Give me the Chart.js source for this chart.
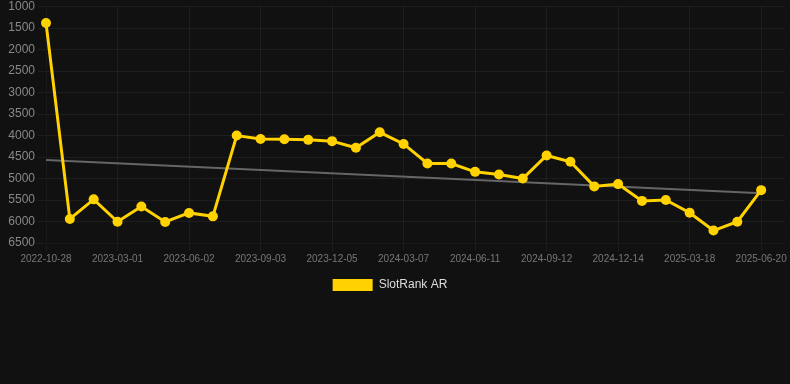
<!DOCTYPE html>
<html>
<head>
<meta charset="utf-8">
<script src="https://cdn.jsdelivr.net/npm/chart.js@4/dist/chart.umd.min.js"></script>
<style>
  html, body { margin: 0; padding: 0; background: #111111; }
  #wrap { position: relative; width: 790px; height: 301px; }
</style>
</head>
<body>
<div id="wrap"><canvas id="rank-chart"></canvas></div>
<script>
// Dates (one spare label at the end so the grid runs past the last point)
const dates = [
    '2022-10-28', '2022-12-08', '2023-01-18', '2023-03-01', '2023-04-01', '2023-05-02',
    '2023-06-02', '2023-07-03', '2023-08-03', '2023-09-03', '2023-10-04', '2023-11-04',
    '2023-12-05', '2024-01-05', '2024-02-05', '2024-03-07', '2024-04-08', '2024-05-10',
    '2024-06-11', '2024-07-12', '2024-08-12', '2024-09-12', '2024-10-13', '2024-11-13',
    '2024-12-14', '2025-01-14', '2025-02-15', '2025-03-18', '2025-04-18', '2025-05-19',
    '2025-06-20', '2025-07-21'
];

// SlotRank AR values
const rankValues = [
    1380, 5940, 5485, 6005, 5650, 6010,
    5800, 5880, 4000, 4080, 4085, 4100,
    4130, 4285, 3925, 4195, 4650, 4650,
    4845, 4905, 5000, 4465, 4610, 5183,
    5130, 5520, 5500, 5795, 6210, 6005,
    5270
];

// Trend line end points
const trendValues = [4570, null, null, null, null, null, null, null, null, null, null,
    null, null, null, null, null, null, null, null, null, null, null, null, null, null,
    null, null, null, null, null, 5345];

const yTicks = { min: 1000, max: 6500, step: 500 };

const gridColor = 'rgba(255, 255, 255, 0.05)';
const fontFamily = 'Liberation Sans, Arial, sans-serif';

new Chart(document.getElementById('rank-chart'), {
    type: 'line',
    data: {
        labels: dates,
        datasets: [{
            label: 'SlotRank AR',
            data: rankValues,
            borderColor: '#ffd200',
            backgroundColor: '#ffd200',
            borderWidth: 3,
            pointRadius: 5,
            pointHoverRadius: 5,
            pointBackgroundColor: '#ffd200',
            pointBorderWidth: 0,
            tension: 0,
            order: 1
        }, {
            label: 'trend',
            data: trendValues,
            borderColor: '#666666',
            borderWidth: 2,
            pointRadius: 0,
            spanGaps: true,
            tension: 0,
            order: 2
        }]
    },
    options: {
        responsive: true,
        maintainAspectRatio: false,
        animation: false,
        layout: { padding: { left: -10, right: 0, top: 0, bottom: 0 } },
        plugins: {
            legend: {
                position: 'bottom',
                labels: {
                    color: '#dddddd',
                    boxWidth: 40,
                    boxHeight: 12,
                    padding: 12,
                    font: { size: 12, family: fontFamily },
                    filter: item => item.text !== 'trend',
                    generateLabels: chart => Chart.defaults.plugins.legend.labels.generateLabels(chart)
                        .map(item => Object.assign(item, { lineWidth: 0 }))
                }
            },
            tooltip: { enabled: false }
        },
        scales: {
            x: {
                grid: {
                    color: ctx => (ctx.index % 3 === 0 ? gridColor : 'transparent'),
                    tickLength: 8
                },
                ticks: {
                    autoSkip: false,
                    maxRotation: 0,
                    padding: 2,
                    color: '#777777',
                    font: { size: 10, family: fontFamily },
                    callback: function(value, index) {
                        return index % 3 === 0 && index < rankValues.length ? this.getLabelForValue(value) : '';
                    }
                }
            },
            y: {
                reverse: true,
                min: yTicks.min,
                max: yTicks.max,
                afterFit: scale => { scale.width = 56; },
                grid: { color: gridColor },
                ticks: {
                    stepSize: yTicks.step,
                    color: '#888888',
                    font: { size: 12, family: fontFamily, lineHeight: 0.6 },
                    callback: value => String(value)
                }
            }
        }
    }
});
</script>
</body>
</html>
